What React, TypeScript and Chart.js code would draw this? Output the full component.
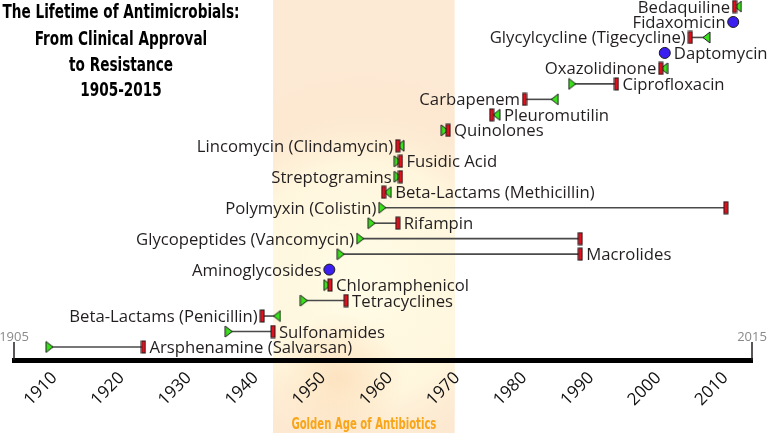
import React, { useEffect, useRef } from 'react';
import { Chart, registerables } from 'chart.js';

Chart.register(...registerables);

// ---------- data ----------
const TITLE_LINES = ['The Lifetime of Antimicrobials:', 'From Clinical Approval', 'to Resistance', '1905-2015'];
const DRUGS = [
  'Bedaquiline', 'Fidaxomicin', 'Glycylcycline (Tigecycline)', 'Daptomycin', 'Oxazolidinone',
  'Ciprofloxacin', 'Carbapenem', 'Pleuromutilin', 'Quinolones', 'Lincomycin (Clindamycin)',
  'Fusidic Acid', 'Streptogramins', 'Beta-Lactams (Methicillin)', 'Polymyxin (Colistin)', 'Rifampin',
  'Glycopeptides (Vancomycin)', 'Macrolides', 'Aminoglycosides', 'Chloramphenicol', 'Tetracyclines',
  'Beta-Lactams (Penicillin)', 'Sulfonamides', 'Arsphenamine (Salvarsan)',
];
const APPROVAL = [
  2012.9, 2012.2, 2008.2, 2002.0, 2001.9,
  1988.2, 1985.6, 1976.9, 1969.2, 1962.6,
  1962.2, 1962.2, 1960.7, 1959.9, 1958.3,
  1956.6, 1953.7, 1952.0, 1951.7, 1948.2,
  1944.2, 1937.0, 1910.3,
];
const RESISTANCE: (number | null)[] = [
  2012.4, null, 2005.8, null, 2001.4,
  1994.8, 1981.1, 1976.2, 1969.7, 1962.2,
  1962.6, 1962.6, 1960.1, 2011.1, 1962.2,
  1989.4, 1989.4, null, 1952.1, 1954.5,
  1942.0, 1943.6, 1924.3,
];
const LABEL_SIDE = [
  'left', 'left', 'left', 'right', 'left',
  'right', 'left', 'right', 'right', 'left',
  'right', 'left', 'right', 'left', 'right',
  'left', 'right', 'left', 'right', 'right',
  'left', 'right', 'right',
];
const X_RANGE = [1905, 2015];
const TICK_YEARS = [1910, 1920, 1930, 1940, 1950, 1960, 1970, 1980, 1990, 2000, 2010];
const GOLDEN_AGE = [1943.6, 1970.7];
const GOLDEN_LABEL = 'Golden Age of Antibiotics';

// ---------- styles ----------
const TEXT = '#231f20';
const GREEN = '#3be01c';
const RED = '#e3101e';
const PURPLE = '#3b1ef0';
const LABEL_FONT = '16.7px "Open Sans", sans-serif';
const NARROW = '"Liberation Sans Narrow", "DejaVu Sans Condensed", sans-serif';

function makeTriangle(dir: 'left' | 'right') {
  const c = document.createElement('canvas');
  c.width = 9; c.height = 13;
  const g = c.getContext('2d')!;
  g.beginPath();
  if (dir === 'right') { g.moveTo(1, 1); g.lineTo(8, 6.5); g.lineTo(1, 12); }
  else { g.moveTo(8, 1); g.lineTo(1, 6.5); g.lineTo(8, 12); }
  g.closePath();
  g.fillStyle = GREEN; g.fill();
  g.lineWidth = 1; g.strokeStyle = '#1a1a1a'; g.stroke();
  return c;
}
function makeBar() {
  const c = document.createElement('canvas');
  c.width = 6; c.height = 14;
  const g = c.getContext('2d')!;
  g.fillStyle = RED; g.fillRect(1, 1, 4, 12);
  g.lineWidth = 1; g.strokeStyle = '#1a1a1a'; g.strokeRect(1, 1, 4, 12);
  return c;
}

function fitText(ctx: CanvasRenderingContext2D, lines: string[], cx: number, baselines: number[], width: number) {
  const w = ctx.measureText(lines[0]).width;
  const f = Math.min(1, width / w);
  ctx.save();
  ctx.translate(cx, 0);
  ctx.scale(f, 1);
  ctx.textAlign = 'center';
  lines.forEach((t, k) => ctx.fillText(t, 0, baselines[k]));
  ctx.restore();
}

export default function App() {
  const ref = useRef<HTMLCanvasElement>(null);
  useEffect(() => {
    const canvas = ref.current!;
    const triR = makeTriangle('right');
    const triL = makeTriangle('left');
    const bar = makeBar();
    const N = DRUGS.length;

    const datasets: any[] = DRUGS.map((name, i) => {
      const yv = N - i;
      const r = RESISTANCE[i];
      if (r === null) {
        return {
          label: name, type: 'line',
          data: [{ x: APPROVAL[i], y: yv }],
          pointStyle: 'circle', pointRadius: 5.5,
          pointBackgroundColor: PURPLE, pointBorderColor: '#1a1a1a', pointBorderWidth: 1,
          showLine: false,
        };
      }
      const tri = r >= APPROVAL[i] ? triR : triL;
      return {
        label: name, type: 'line',
        data: [{ x: APPROVAL[i], y: yv }, { x: r, y: yv }],
        borderColor: '#4a4a4a', borderWidth: 1.6,
        pointStyle: [tri, bar], pointRadius: 6,
      };
    });

    const decor = {
      id: 'decor',
      beforeDraw(chart: any) {
        const { ctx } = chart;
        const xs = chart.scales.x;
        const l = xs.getPixelForValue(GOLDEN_AGE[0]);
        const r = xs.getPixelForValue(GOLDEN_AGE[1]);
        const H = chart.height;
        const cx = (l + r) / 2;
        ctx.save();
        ctx.beginPath(); ctx.rect(l, 0, r - l, H); ctx.clip();
        ctx.fillStyle = '#fdead4'; ctx.fillRect(l, 0, r - l, H);
        const g = ctx.createRadialGradient(cx, 280, 0, cx, 280, 215);
        g.addColorStop(0, 'rgba(255,252,230,1)');
        g.addColorStop(0.55, 'rgba(255,247,222,0.9)');
        g.addColorStop(0.86, 'rgba(252,226,200,0.3)');
        g.addColorStop(1, 'rgba(253,233,210,0)');
        ctx.fillStyle = g; ctx.fillRect(l, 0, r - l, H);
        const o = ctx.createRadialGradient(cx - 25, 378, 0, cx - 25, 378, 65);
        o.addColorStop(0, 'rgba(251,206,162,0.5)');
        o.addColorStop(1, 'rgba(251,206,162,0)');
        ctx.fillStyle = o; ctx.fillRect(l, 0, r - l, H);
        ctx.restore();
      },
      afterDatasetsDraw(chart: any) {
        const { ctx } = chart;
        const xs = chart.scales.x;
        const ys = chart.scales.y;
        ctx.save();
        // drug labels
        ctx.font = LABEL_FONT;
        ctx.fillStyle = TEXT;
        ctx.textBaseline = 'alphabetic';
        DRUGS.forEach((name, i) => {
          const y = ys.getPixelForValue(N - i);
          const a = xs.getPixelForValue(APPROVAL[i]);
          const rv = RESISTANCE[i];
          let lo: number, hi: number;
          if (rv === null) { lo = a - 6.5 + 1; hi = a + 6.5 - 1; }
          else {
            const rp = xs.getPixelForValue(rv);
            lo = Math.min(a - 4, rp - 2.5);
            hi = Math.max(a + 4, rp + 2.5);
          }
          if (LABEL_SIDE[i] === 'left') { ctx.textAlign = 'right'; ctx.fillText(name, lo - 2, y + 6); }
          else { ctx.textAlign = 'left'; ctx.fillText(name, hi + 3.5, y + 6); }
        });
        // range end marks
        const bottom = chart.chartArea.bottom;
        ctx.strokeStyle = '#231f20';
        ctx.lineWidth = 1.5;
        ctx.font = '13px "Open Sans", sans-serif';
        ctx.textAlign = 'center';
        X_RANGE.forEach((v) => {
          const px = xs.getPixelForValue(v);
          ctx.beginPath(); ctx.moveTo(px, bottom); ctx.lineTo(px, bottom - 18); ctx.stroke();
          ctx.fillStyle = '#8a8a8a';
          ctx.fillText(String(v), px, bottom - 19);
        });
        ctx.restore();
      },
      afterDraw(chart: any) {
        const { ctx } = chart;
        const xs = chart.scales.x;
        ctx.save();
        ctx.textBaseline = 'alphabetic';
        // golden age label
        const cx = (xs.getPixelForValue(GOLDEN_AGE[0]) + xs.getPixelForValue(GOLDEN_AGE[1])) / 2;
        ctx.font = `bold 15px ${NARROW}`;
        ctx.fillStyle = '#f9a51a';
        fitText(ctx, [GOLDEN_LABEL], cx, [429], 145);
        // title
        ctx.font = `bold 19.5px ${NARROW}`;
        ctx.fillStyle = '#000';
        fitText(ctx, TITLE_LINES, 121, [17.5, 45, 71, 96], 237);
        ctx.restore();
      },
    };

    const chart = new Chart(canvas, {
      type: 'line',
      data: { datasets },
      options: {
        responsive: false,
        animation: false,
        devicePixelRatio: 1,
        events: [],
        layout: { autoPadding: false, padding: { left: 14, right: 16, top: 0, bottom: 0 } },
        plugins: { legend: { display: false }, tooltip: { enabled: false }, title: { display: false } },
        scales: {
          x: {
            type: 'linear',
            min: X_RANGE[0], max: X_RANGE[1],
            afterBuildTicks: (s: any) => { s.ticks = TICK_YEARS.map((v) => ({ value: v })); },
            afterFit: (s: any) => { s.height = 73; },
            grid: { display: false, drawTicks: false },
            border: { display: true, color: '#000', width: 5 },
            ticks: {
              minRotation: 45, maxRotation: 45,
              padding: 8, labelOffset: 7,
              color: '#111',
              font: { family: '"Open Sans", sans-serif', size: 17 },
              callback: (v: any) => String(v),
            },
          },
          y: { type: 'linear', display: false, min: 0.16, max: 23.42 },
        },
      },
      plugins: [decor],
    } as any);
    return () => chart.destroy();
  }, []);
  return (
    <div style={{ position: 'fixed', left: 0, top: 0, width: 768, height: 433, background: '#fff' }}>
      <canvas ref={ref} width={768} height={433} style={{ display: 'block', width: 768, height: 433 }} />
    </div>
  );
}
